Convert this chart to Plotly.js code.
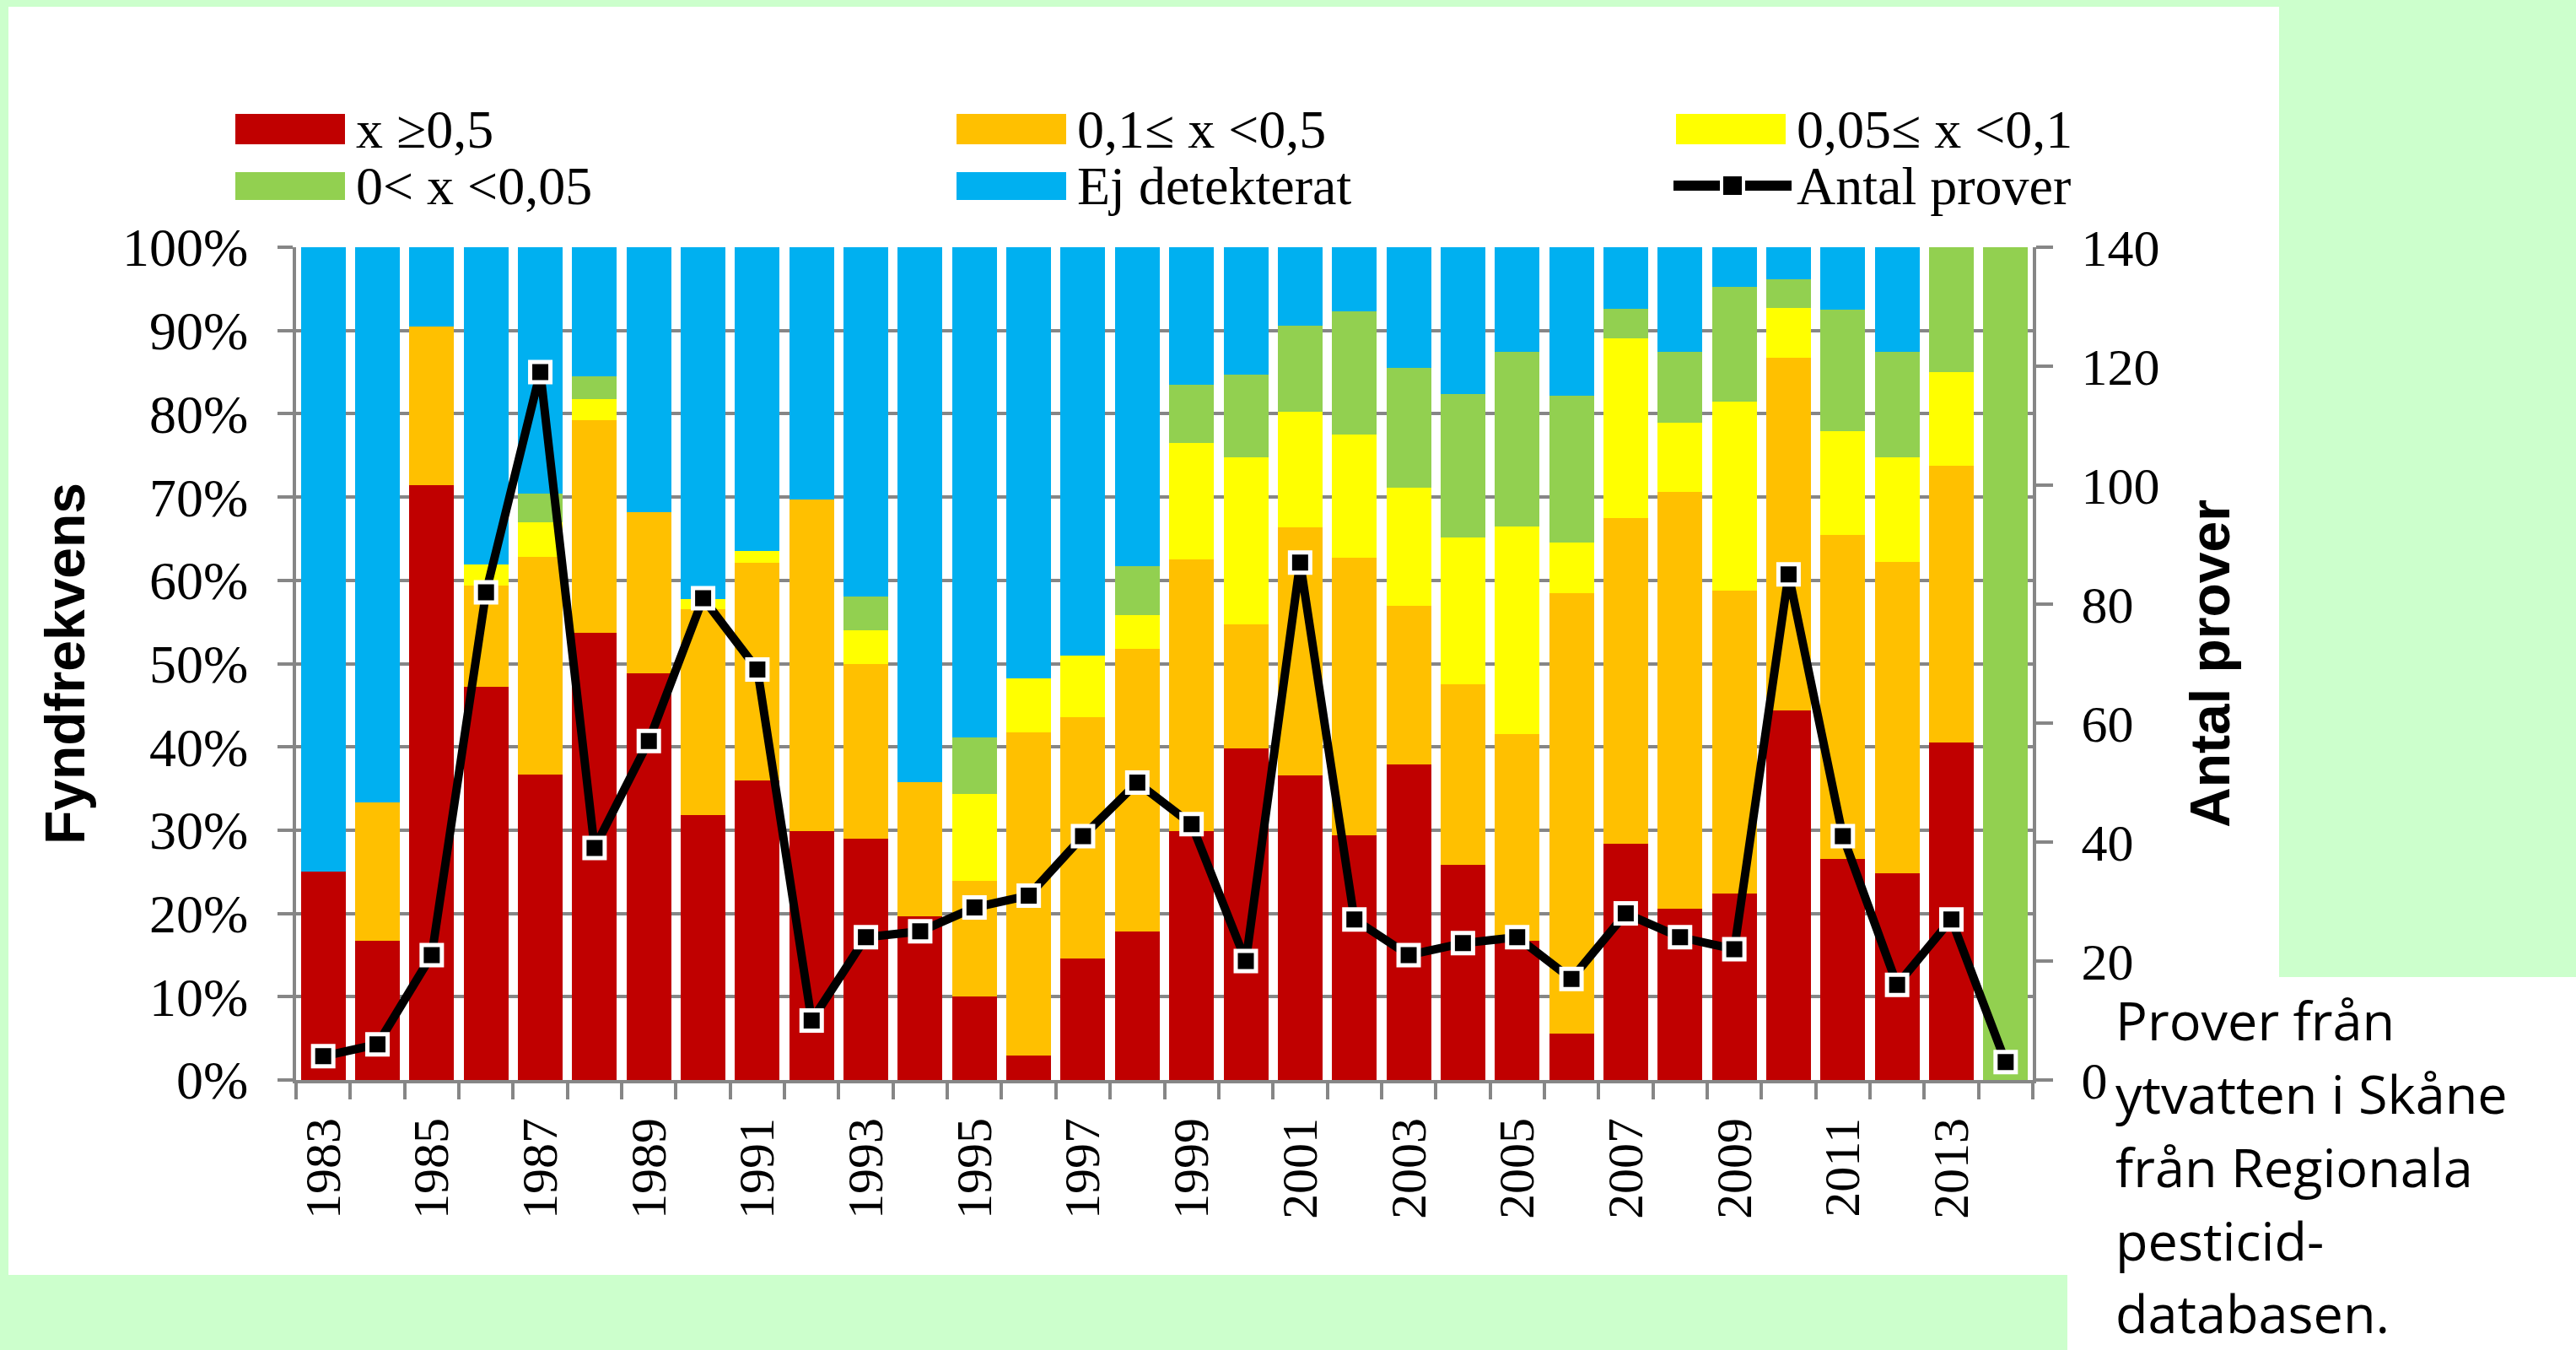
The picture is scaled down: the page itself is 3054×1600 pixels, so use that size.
<!DOCTYPE html>
<html>
<head>
<meta charset="utf-8">
<script src="https://cdn.plot.ly/plotly-3.0.1.min.js"></script>
<style>
html,body{margin:0;padding:0;background:#CCFFCC;}
#chart{width:3054px;height:1600px;}
</style>
</head>
<body>
<div id="chart"></div>
<script>
// ---- data ----
const years = [1983,1984,1985,1986,1987,1988,1989,1990,1991,1992,1993,1994,1995,1996,1997,1998,
               1999,2000,2001,2002,2003,2004,2005,2006,2007,2008,2009,2010,2011,2012,2013,2014];
const yearTickLabels = ['1983','','1985','','1987','','1989','','1991','','1993','','1995','','1997','',
                        '1999','','2001','','2003','','2005','','2007','','2009','','2011','','2013',''];
// percent of samples in each class (stacked to 100 %)
const ge05     = [25.0,16.7,71.4,47.2,36.7,53.7,48.8,31.8,36.0,29.9,29.0,19.7,10.0, 2.9,14.6,17.8,
                  29.9,39.8,36.6,29.4,37.9,25.8,16.7, 5.6,28.4,20.6,22.4,44.4,26.5,24.8,40.5, 0.0];
const r01to05  = [ 0.0,16.6,19.1,12.2,26.1,25.5,19.4,24.7,26.1,39.8,20.9,16.1,13.9,38.8,29.0,34.0,
                  32.6,14.9,29.8,33.3,19.0,21.7,24.8,52.9,39.1,50.0,36.4,42.3,39.0,37.4,33.3, 0.0];
const r005to01 = [ 0.0, 0.0, 0.0, 2.5, 4.2, 2.6, 0.0, 1.3, 1.4, 0.0, 4.1, 0.0,10.4, 6.5, 7.4, 4.0,
                  14.0,20.1,13.8,14.8,14.2,17.6,25.0, 6.0,21.6, 8.3,22.7, 6.0,12.4,12.6,11.2, 0.0];
const r0to005  = [ 0.0, 0.0, 0.0, 0.0, 3.4, 2.7, 0.0, 0.0, 0.0, 0.0, 4.1, 0.0, 6.8, 0.0, 0.0, 5.9,
                   7.0, 9.9,10.4,14.8,14.4,17.3,20.9,17.7, 3.5, 8.5,13.7, 3.5,14.6,12.6,15.0,100.0];
const ejDetekterat = [75.0,66.7, 9.5,38.1,29.6,15.5,31.8,42.2,36.5,30.3,41.9,64.2,58.9,51.8,49.0,38.3,
                  16.5,15.3, 9.4, 7.7,14.5,17.6,12.6,17.8, 7.4,12.6, 4.8, 3.8, 7.5,12.6, 0.0, 0.0];
const antalProver = [4,6,21,82,119,39,57,81,69,10,24,25,29,31,41,50,
                     43,20,87,27,21,23,24,17,28,24,22,85,41,16,27,3];

const seriesNames = ['x \u22650,5','0,1\u2264 x <0,5','0,05\u2264 x <0,1','0< x <0,05','Ej detekterat','Antal prover'];
const seriesColors = ['#C00000','#FFC000','#FFFF00','#92D050','#00B0F0','#000000'];
const noteLines = ['Prover från','ytvatten i Skåne','från Regionala','pesticid-','databasen.'];

// ---- geometry (pixels) ----
const W = 3054, H = 1600;
const L = 351, R = 2410, T = 293, B = 1280;
const px = x => (x - L) / (R - L);
const py = y => (B - y) / (B - T);

const xCats = years.map(String);
const barSeries = [ge05, r01to05, r005to01, r0to005, ejDetekterat];
const traces = barSeries.map((vals, i) => ({
  type: 'bar', x: xCats, y: vals, name: seriesNames[i],
  marker: {color: seriesColors[i], line: {width: 0}},
  hoverinfo: 'x+y+name'
}));
traces.push({
  type: 'scatter', mode: 'lines+markers', x: xCats, y: antalProver, yaxis: 'y2',
  name: seriesNames[5], cliponaxis: false,
  line: {color: '#000000', width: 10},
  marker: {symbol: 'square', size: 24, color: '#000000', line: {color: '#FFFFFF', width: 5}}
});

const grey = '#868686';
const serif = 'Liberation Serif, Times New Roman, serif';
const sans = 'Liberation Sans, Arial, sans-serif';

const shapes = [
  {type:'rect', xref:'paper', yref:'paper', layer:'below', x0:px(10), x1:px(2702), y0:py(1511), y1:py(8),
   fillcolor:'#FFFFFF', line:{width:0}},
  {type:'rect', xref:'paper', yref:'paper', layer:'below', x0:px(2451), x1:px(3060), y0:py(1610), y1:py(1158),
   fillcolor:'#FFFFFF', line:{width:0}}
];
const annotations = [];

// legend (3 columns x 2 rows)
const colX = [279, 1134, 1987];
const rowY = [[135,171],[204,237]];
const rowMid = [154, 220];
for (let i = 0; i < 6; i++) {
  const col = i % 3, row = Math.floor(i / 3);
  if (i < 5) {
    shapes.push({type:'rect', xref:'paper', yref:'paper', x0:px(colX[col]), x1:px(colX[col]+130),
      y0:py(rowY[row][1]), y1:py(rowY[row][0]), fillcolor:seriesColors[i], line:{width:0}});
  } else {
    shapes.push({type:'line', xref:'paper', yref:'paper', x0:px(colX[col]-3), x1:px(colX[col]+137),
      y0:py(rowMid[row]), y1:py(rowMid[row]), line:{color:'#000000', width:12}});
    shapes.push({type:'rect', xref:'paper', yref:'paper', x0:px(colX[col]+54), x1:px(colX[col]+80),
      y0:py(rowMid[row]+13), y1:py(rowMid[row]-13), fillcolor:'#000000', line:{color:'#FFFFFF', width:4}});
  }
  annotations.push({xref:'paper', yref:'paper', x:px(colX[col]+141), y:py(rowMid[row]),
    xanchor:'left', yanchor:'middle', showarrow:false, text:seriesNames[i],
    font:{family:serif, size:64, color:'#000000'}});
}
// note text at lower right
const noteBase = [1232, 1319, 1406, 1493, 1579];
noteLines.forEach((t, i) => {
  annotations.push({xref:'paper', yref:'paper', x:px(2506), y:py(noteBase[i]-24),
    xanchor:'left', yanchor:'middle', showarrow:false, text:t,
    font:{family:'Open Sans, sans-serif', size:63, color:'#000000'}});
});

const layout = {
  width: W, height: H,
  margin: {l: L, r: W - R, t: T, b: H - B, pad: 0},
  paper_bgcolor: '#CCFFCC', plot_bgcolor: '#FFFFFF',
  barmode: 'stack', bargap: 0.176,
  showlegend: false,
  xaxis: {
    type: 'category', range: [-0.5, years.length - 0.5], autorange: false,
    tickmode: 'array', tickvals: xCats, ticktext: yearTickLabels,
    tickson: 'boundaries', ticks: 'outside', ticklen: 19, tickwidth: 4, tickcolor: grey,
    showline: true, linecolor: grey, linewidth: 4, showgrid: false, zeroline: false,
    tickangle: -90, ticklabelstandoff: 17,
    tickfont: {family: serif, size: 60, color: '#000000'}, automargin: false
  },
  yaxis: {
    range: [0, 100], autorange: false, tickmode: 'linear', tick0: 0, dtick: 10, ticksuffix: '%',
    ticks: 'outside', ticklen: 18, tickwidth: 4, tickcolor: grey,
    showline: true, linecolor: grey, linewidth: 4,
    showgrid: true, gridcolor: grey, gridwidth: 4, zeroline: false,
    ticklabelstandoff: 22,
    tickfont: {family: serif, size: 64, color: '#000000'},
    title: {text: 'Fyndfrekvens', standoff: 24, font: {family: sans, size: 66, color: '#000000', weight: 'bold'}},
    automargin: true
  },
  yaxis2: {
    overlaying: 'y', side: 'right', range: [0, 140], autorange: false, tickmode: 'linear', tick0: 0, dtick: 20,
    ticks: 'outside', ticklen: 20, tickwidth: 4, tickcolor: grey,
    showline: true, linecolor: grey, linewidth: 4, showgrid: false, zeroline: false,
    ticklabelstandoff: 21,
    tickfont: {family: serif, size: 62, color: '#000000'},
    title: {text: 'Antal prover', standoff: 38, font: {family: sans, size: 66, color: '#000000', weight: 'bold'}},
    automargin: true
  },
  shapes: shapes,
  annotations: annotations
};

Plotly.newPlot('chart', traces, layout, {displayModeBar: false, staticPlot: true});
</script>
</body>
</html>
